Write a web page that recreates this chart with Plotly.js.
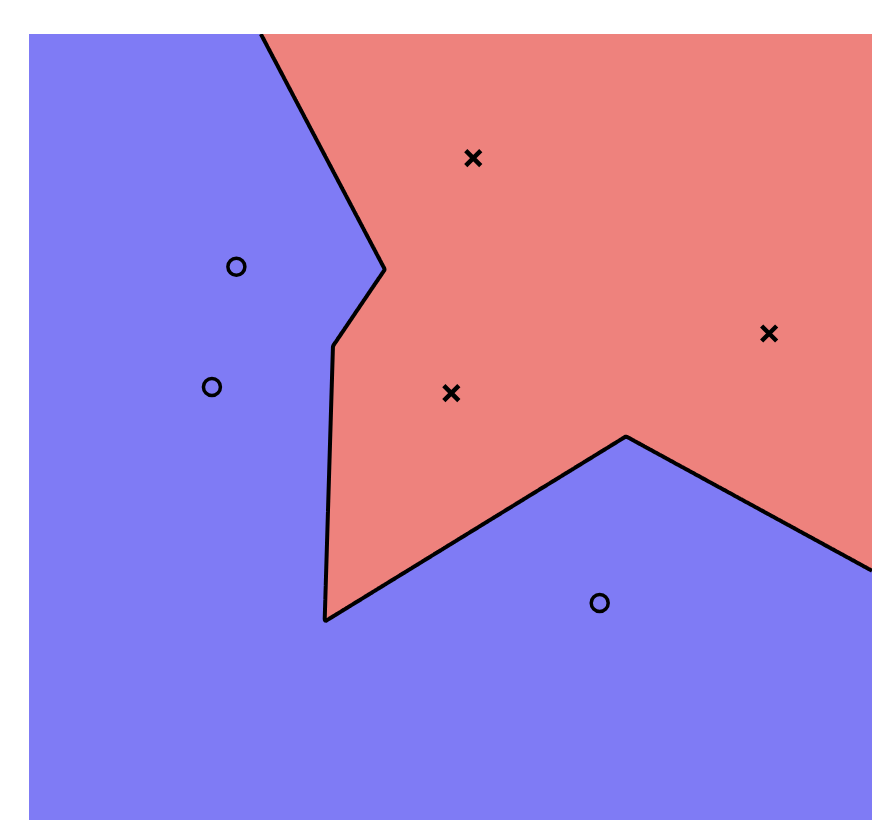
<!DOCTYPE html>
<html>
<head>
<meta charset="utf-8">
<script src="https://cdn.plot.ly/plotly-3.0.1.min.js"></script>
<style>html,body{margin:0;padding:0;background:#fff;}#chart{width:894px;height:838px;}</style>
</head>
<body>
<div id="chart"></div>
<script>
// Class "o" points
const oX = [2.46, 2.17, 6.77];
const oY = [7.04, 5.51, 2.76];
// Class "x" points
const xX = [5.27, 8.78, 5.01];
const xY = [8.42, 6.19, 5.43];

const xRange = [0, 10];
const yRange = [0, 10];

// 1-nearest-neighbour decision surface computed from the points
const step = 0.02;
const gx = [], gy = [];
for (let v = xRange[0]; v <= xRange[1] + 1e-9; v += step) gx.push(+v.toFixed(4));
for (let v = yRange[0]; v <= yRange[1] + 1e-9; v += step) gy.push(+v.toFixed(4));
function nearest(px, py, xs, ys) {
  let m = Infinity;
  for (let i = 0; i < xs.length; i++) {
    const d = Math.hypot(px - xs[i], py - ys[i]);
    if (d < m) m = d;
  }
  return m;
}
const zDiff = [], zCls = [];
for (let j = 0; j < gy.length; j++) {
  const rd = [], rc = [];
  for (let i = 0; i < gx.length; i++) {
    const d = nearest(gx[i], gy[j], oX, oY) - nearest(gx[i], gy[j], xX, xY);
    rd.push(d);
    rc.push(d > 0 ? 1 : 0);
  }
  zDiff.push(rd); zCls.push(rc);
}

const blue = '#7f7bf5';
const red = '#ee827d';

const traces = [
  {type: 'heatmap', x: gx, y: gy, z: zCls, zmin: 0, zmax: 1,
   colorscale: [[0, blue], [0.5, blue], [0.5, red], [1, red]],
   showscale: false, hoverinfo: 'skip', zsmooth: false},
  {type: 'contour', x: gx, y: gy, z: zDiff, showscale: false, hoverinfo: 'skip',
   contours: {start: 0, end: 0, size: 1, coloring: 'none'},
   line: {color: 'black', width: 4, smoothing: 0}},
  {type: 'scatter', mode: 'markers', x: oX, y: oY, name: 'o',
   marker: {symbol: 'circle-open', size: 17, color: 'black', line: {width: 3.5, color: 'black'}}},
  {type: 'scatter', mode: 'markers', x: xX, y: xY, name: 'x',
   marker: {symbol: 'x-thin-open', size: 15, color: 'black', line: {width: 4.5, color: 'black'}}}
];

const layout = {
  width: 894, height: 838,
  margin: {l: 29, r: 22, t: 34, b: 18, pad: 0},
  paper_bgcolor: '#ffffff', plot_bgcolor: blue,
  showlegend: false,
  xaxis: {range: xRange, visible: false, showgrid: false, zeroline: false, fixedrange: true},
  yaxis: {range: yRange, visible: false, showgrid: false, zeroline: false, fixedrange: true}
};

Plotly.newPlot('chart', traces, layout, {staticPlot: true, displayModeBar: false});
</script>
</body>
</html>
